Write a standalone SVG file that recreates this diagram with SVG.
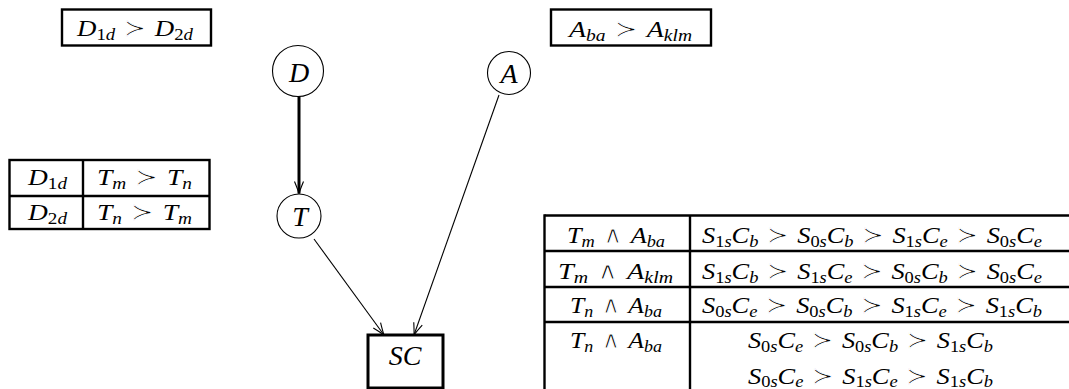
<svg xmlns="http://www.w3.org/2000/svg" width="1069" height="389" viewBox="0 0 1069 389">
<defs>
<style>
.t{font-family:"Liberation Serif","DejaVu Serif",serif;font-style:italic;fill:#000;font-size:24px}
.n{font-size:28px}
.u{font-style:normal}
.y{font-family:"DejaVu Serif","DejaVu Sans",serif;font-style:normal;stroke:#fff;stroke-width:1px}
.s{font-size:70%}
.box{fill:#fff;stroke:#000;stroke-width:2.4}
.ln{stroke:#000;stroke-width:2.4;fill:none}
.node{fill:#fff;stroke:#000;stroke-width:1.1}
.edge{fill:none;stroke:#000;stroke-width:1.1}
.thick{fill:none;stroke:#000;stroke-width:3}
</style>
<marker id="ah" markerUnits="userSpaceOnUse" markerWidth="30" markerHeight="30" refX="0" refY="0" orient="auto" overflow="visible">
<path d="M-12,-4.5 Q-4,-1.2 0,0 Q-4,1.2 -12,4.5" fill="none" stroke="#000" stroke-width="1.1"/>
</marker>
</defs>
<rect width="1069" height="389" fill="#fff"/>

<g id="edges">
<line class="thick" x1="299" y1="96" x2="299" y2="193.5" marker-end="url(#ah)"/>
<line class="edge" x1="314" y1="239" x2="384" y2="335" marker-end="url(#ah)"/>
<line class="edge" x1="499" y1="95" x2="414" y2="335" marker-end="url(#ah)"/>
</g>

<g id="node-D">
<circle class="node" cx="298" cy="71" r="25.5"/>
<text class="t n" x="299" y="82" text-anchor="middle">D</text>
</g>
<g id="node-T">
<circle class="node" cx="299" cy="216" r="22"/>
<text class="t n" x="300" y="226" text-anchor="middle">T</text>
</g>
<g id="node-A">
<circle class="node" cx="509" cy="73" r="21.5"/>
<text class="t n" x="509" y="83" text-anchor="middle">A</text>
</g>
<g id="node-SC">
<rect x="368" y="335" width="75" height="53" fill="#fff" stroke="#000" stroke-width="3"/>
<text class="t n" x="405" y="365" text-anchor="middle">SC</text>
</g>

<g id="pref-D">
<rect class="box" x="62" y="9.5" width="149" height="36"/>
<text class="t" x="135" y="36" text-anchor="middle" textLength="116" lengthAdjust="spacingAndGlyphs">D<tspan class="s" dy="4"><tspan class="u">1</tspan>d</tspan><tspan class="y" dy="-4"> ≻ </tspan>D<tspan class="s" dy="4"><tspan class="u">2</tspan>d</tspan></text>
</g>

<g id="pref-A">
<rect class="box" x="551" y="9.5" width="160" height="36"/>
<text class="t" x="630.5" y="37" text-anchor="middle" textLength="123" lengthAdjust="spacingAndGlyphs">A<tspan class="s" dy="4">ba</tspan><tspan class="y" dy="-4"> ≻ </tspan>A<tspan class="s" dy="4">klm</tspan></text>
</g>

<g id="cpt-T">
<rect class="box" x="9.5" y="160" width="200" height="69"/>
<line class="ln" x1="83" y1="160" x2="83" y2="229"/>
<line class="ln" x1="9.5" y1="196" x2="209.5" y2="196"/>
<text class="t" x="47.5" y="185" text-anchor="middle" textLength="39" lengthAdjust="spacingAndGlyphs">D<tspan class="s" dy="4"><tspan class="u">1</tspan>d</tspan></text>
<text class="t" x="144.5" y="185" text-anchor="middle" textLength="95" lengthAdjust="spacingAndGlyphs">T<tspan class="s" dy="4">m</tspan><tspan class="y" dy="-4"> ≻ </tspan>T<tspan class="s" dy="4">n</tspan></text>
<text class="t" x="47.5" y="220" text-anchor="middle" textLength="39" lengthAdjust="spacingAndGlyphs">D<tspan class="s" dy="4"><tspan class="u">2</tspan>d</tspan></text>
<text class="t" x="144.5" y="220" text-anchor="middle" textLength="95" lengthAdjust="spacingAndGlyphs">T<tspan class="s" dy="4">n</tspan><tspan class="y" dy="-4"> ≻ </tspan>T<tspan class="s" dy="4">m</tspan></text>
</g>

<g id="cpt-SC">
<line class="ln" x1="544.5" y1="215.5" x2="1069" y2="215.5"/>
<line class="ln" x1="544.5" y1="251" x2="1069" y2="251"/>
<line class="ln" x1="544.5" y1="287" x2="1069" y2="287"/>
<line class="ln" x1="544.5" y1="322" x2="1069" y2="322"/>
<line class="ln" x1="544.5" y1="214.3" x2="544.5" y2="389"/>
<line class="ln" x1="690" y1="215.5" x2="690" y2="389"/>

<text class="t" x="616" y="243" text-anchor="middle" textLength="98" lengthAdjust="spacingAndGlyphs">T<tspan class="s" dy="4">m</tspan><tspan class="y" dy="-4"> ∧ </tspan>A<tspan class="s" dy="4">ba</tspan></text>
<text class="t" x="615.5" y="279" text-anchor="middle" textLength="115" lengthAdjust="spacingAndGlyphs">T<tspan class="s" dy="4">m</tspan><tspan class="y" dy="-4"> ∧ </tspan>A<tspan class="s" dy="4">klm</tspan></text>
<text class="t" x="616" y="313" text-anchor="middle" textLength="92" lengthAdjust="spacingAndGlyphs">T<tspan class="s" dy="4">n</tspan><tspan class="y" dy="-4"> ∧ </tspan>A<tspan class="s" dy="4">ba</tspan></text>
<text class="t" x="616" y="348" text-anchor="middle" textLength="92" lengthAdjust="spacingAndGlyphs">T<tspan class="s" dy="4">n</tspan><tspan class="y" dy="-4"> ∧ </tspan>A<tspan class="s" dy="4">ba</tspan></text>

<text class="t" x="872" y="243" text-anchor="middle" textLength="340" lengthAdjust="spacingAndGlyphs">S<tspan class="s" dy="4"><tspan class="u">1</tspan>s</tspan><tspan dy="-4">C</tspan><tspan class="s" dy="4">b</tspan><tspan class="y" dy="-4"> ≻ </tspan>S<tspan class="s" dy="4"><tspan class="u">0</tspan>s</tspan><tspan dy="-4">C</tspan><tspan class="s" dy="4">b</tspan><tspan class="y" dy="-4"> ≻ </tspan>S<tspan class="s" dy="4"><tspan class="u">1</tspan>s</tspan><tspan dy="-4">C</tspan><tspan class="s" dy="4">e</tspan><tspan class="y" dy="-4"> ≻ </tspan>S<tspan class="s" dy="4"><tspan class="u">0</tspan>s</tspan><tspan dy="-4">C</tspan><tspan class="s" dy="4">e</tspan></text>
<text class="t" x="872" y="279" text-anchor="middle" textLength="340" lengthAdjust="spacingAndGlyphs">S<tspan class="s" dy="4"><tspan class="u">1</tspan>s</tspan><tspan dy="-4">C</tspan><tspan class="s" dy="4">b</tspan><tspan class="y" dy="-4"> ≻ </tspan>S<tspan class="s" dy="4"><tspan class="u">1</tspan>s</tspan><tspan dy="-4">C</tspan><tspan class="s" dy="4">e</tspan><tspan class="y" dy="-4"> ≻ </tspan>S<tspan class="s" dy="4"><tspan class="u">0</tspan>s</tspan><tspan dy="-4">C</tspan><tspan class="s" dy="4">b</tspan><tspan class="y" dy="-4"> ≻ </tspan>S<tspan class="s" dy="4"><tspan class="u">0</tspan>s</tspan><tspan dy="-4">C</tspan><tspan class="s" dy="4">e</tspan></text>
<text class="t" x="872" y="313" text-anchor="middle" textLength="340" lengthAdjust="spacingAndGlyphs">S<tspan class="s" dy="4"><tspan class="u">0</tspan>s</tspan><tspan dy="-4">C</tspan><tspan class="s" dy="4">e</tspan><tspan class="y" dy="-4"> ≻ </tspan>S<tspan class="s" dy="4"><tspan class="u">0</tspan>s</tspan><tspan dy="-4">C</tspan><tspan class="s" dy="4">b</tspan><tspan class="y" dy="-4"> ≻ </tspan>S<tspan class="s" dy="4"><tspan class="u">1</tspan>s</tspan><tspan dy="-4">C</tspan><tspan class="s" dy="4">e</tspan><tspan class="y" dy="-4"> ≻ </tspan>S<tspan class="s" dy="4"><tspan class="u">1</tspan>s</tspan><tspan dy="-4">C</tspan><tspan class="s" dy="4">b</tspan></text>
<text class="t" x="870.5" y="348" text-anchor="middle" textLength="245" lengthAdjust="spacingAndGlyphs">S<tspan class="s" dy="4"><tspan class="u">0</tspan>s</tspan><tspan dy="-4">C</tspan><tspan class="s" dy="4">e</tspan><tspan class="y" dy="-4"> ≻ </tspan>S<tspan class="s" dy="4"><tspan class="u">0</tspan>s</tspan><tspan dy="-4">C</tspan><tspan class="s" dy="4">b</tspan><tspan class="y" dy="-4"> ≻ </tspan>S<tspan class="s" dy="4"><tspan class="u">1</tspan>s</tspan><tspan dy="-4">C</tspan><tspan class="s" dy="4">b</tspan></text>
<text class="t" x="870.5" y="384" text-anchor="middle" textLength="245" lengthAdjust="spacingAndGlyphs">S<tspan class="s" dy="3"><tspan class="u">0</tspan>s</tspan><tspan dy="-3">C</tspan><tspan class="s" dy="3">e</tspan><tspan class="y" dy="-3"> ≻ </tspan>S<tspan class="s" dy="3"><tspan class="u">1</tspan>s</tspan><tspan dy="-3">C</tspan><tspan class="s" dy="3">e</tspan><tspan class="y" dy="-3"> ≻ </tspan>S<tspan class="s" dy="3"><tspan class="u">1</tspan>s</tspan><tspan dy="-3">C</tspan><tspan class="s" dy="3">b</tspan></text>
</g>
</svg>
